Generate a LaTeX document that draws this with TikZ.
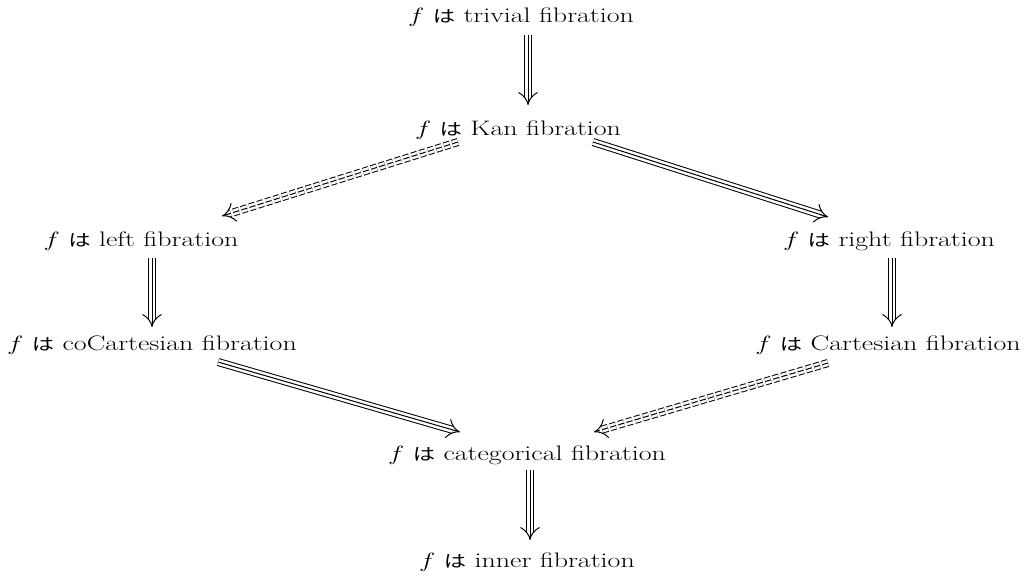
\documentclass[tikz,border=0pt]{standalone}
\usepackage{fontspec}
\usepackage{graphicx}
\newfontfamily\jpfont[Scale=0.8]{Noto Sans CJK JP}
\usetikzlibrary{arrows.meta}
\newcommand{\ha}{{\jpfont は}}
\newcommand{\stmt}[1]{\scalebox{1.33}[1]{$f$ \ha{} #1}}
\tikzset{
  stmtnode/.style={font=\fontsize{21}{25}\selectfont, inner sep=0pt, anchor=base},
  tripleout/.style={line width=1pt, double distance=6pt, -{Implies}},
  triplemid/.style={line width=1pt, shorten >=2pt},
  broken/.style={dash pattern=on 6pt off 2.5pt}
}
% a triple implication arrow: two outer strokes with the tip, one middle stroke
\newcommand{\imp}[3][]{%
  \draw[tripleout,#1] #2 -- #3;
  \draw[triplemid,#1] #2 -- #3;}
\begin{document}
\begin{tikzpicture}[x=1pt,y=-1pt]
\useasboundingbox (0,0) rectangle (1034,576);
\node[stmtnode] (triv)  at (521,22)  {\stmt{trivial fibration}};
\node[stmtnode] (kan)   at (518,135) {\stmt{Kan fibration}};
\node[stmtnode] (left)  at (141,246) {\stmt{left fibration}};
\node[stmtnode] (right) at (889,246) {\stmt{right fibration}};
\node[stmtnode] (cocart) at (152,350) {\stmt{coCartesian fibration}};
\node[stmtnode] (cart)  at (888,350) {\stmt{Cartesian fibration}};
\node[stmtnode] (categ) at (527,460) {\stmt{categorical fibration}};
\node[stmtnode] (inner) at (527,567) {\stmt{inner fibration}};

\imp{([shift={(7pt,-13pt)}]triv.base)}{([shift={(10pt,30pt)}]kan.base)}
\imp[broken]{([shift={(-60pt,-7pt)}]kan.base)}{([shift={(81pt,30pt)}]left.base)}
\imp{([shift={(75pt,-7pt)}]kan.base)}{([shift={(-61pt,29pt)}]right.base)}
\imp{([shift={(11pt,-12pt)}]left.base)}{([shift={(0pt,23pt)}]cocart.base)}
\imp{([shift={(3pt,-12pt)}]right.base)}{([shift={(4pt,23pt)}]cart.base)}
\imp{([shift={(66pt,-12pt)}]cocart.base)}{([shift={(-67pt,28pt)}]categ.base)}
\imp[broken]{([shift={(-60pt,-13pt)}]cart.base)}{([shift={(67pt,28pt)}]categ.base)}
\imp{([shift={(3pt,-10pt)}]categ.base)}{([shift={(3pt,27pt)}]inner.base)}
\end{tikzpicture}
\end{document}
